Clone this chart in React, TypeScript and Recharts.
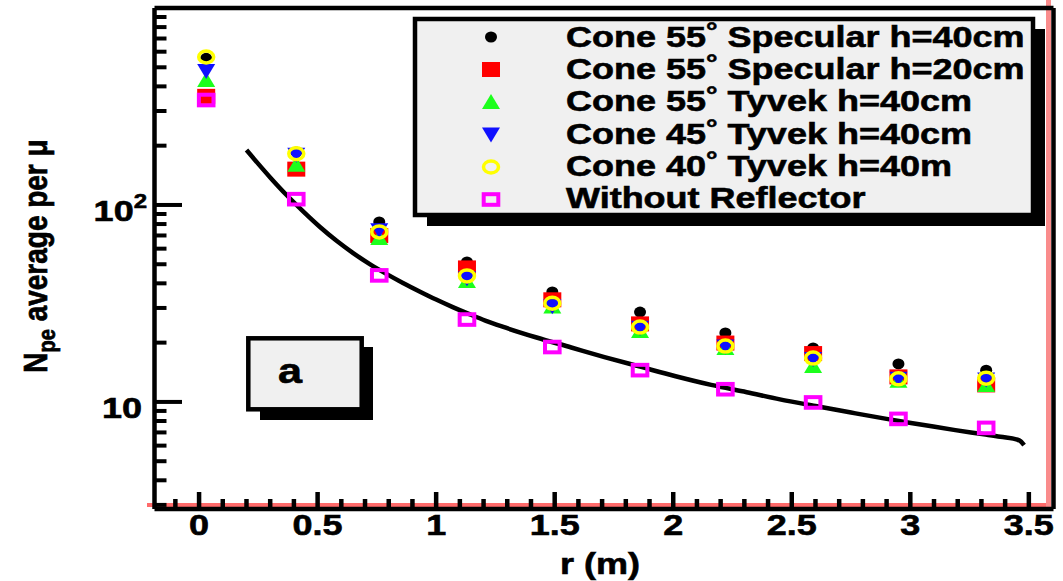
import React from "react";
import { ComposedChart, Scatter, Line, XAxis, YAxis, ReferenceLine } from "recharts";

// radial distance of each measurement (m)
const R_VALUES = [0.03, 0.41, 0.76, 1.13, 1.49, 1.86, 2.22, 2.59, 2.95, 3.32];

// mean photo-electrons per muon, one list per setup
const SPEC_55_H40 = [555, 186, 82, 51.4, 36.2, 28.6, 22.4, 18.8, 15.6, 14.5];
const SPEC_55_H20 = [356, 152, 70, 47.9, 33, 24.9, 19.9, 17.6, 13.4, 12.2];
const TYVEK_55_H40 = [431, 160, 68, 41.1, 30.5, 22.9, 18.8, 15.2, 12.8, 12.2];
const TYVEK_45_H40 = [479, 180, 74.5, 42.5, 30.6, 23.8, 19.1, 16.5, 13.1, 13.0];
const TYVEK_40_H40 = [564, 182, 73, 43.6, 31.7, 24.0, 19.2, 16.7, 13.1, 13.2];
const NO_REFLECTOR = [341, 107, 43.9, 26.2, 19.0, 14.5, 11.6, 9.94, 8.2, 7.38];

// fitted curve
const FIT_R = [
  0.2, 0.3, 0.37, 0.44, 0.51, 0.58, 0.65, 0.72, 0.79, 0.86, 0.93, 1.0, 1.07, 1.14, 1.21,
  1.28, 1.42, 1.57, 1.71, 1.86, 2.01, 2.16, 2.31, 2.45, 2.6, 2.75, 2.9, 3.05, 3.19, 3.31,
  3.38, 3.46, 3.48,
];
const FIT_VALUES = [
  190, 138, 112, 92.5, 77.3, 65.8, 57.0, 50.1, 44.7, 40.2, 36.4, 33.1, 30.3, 27.9, 25.8,
  24.1, 21.3, 18.9, 16.9, 15.1, 13.5, 12.2, 11.2, 10.3, 9.53, 8.83, 8.2, 7.66, 7.19, 6.85,
  6.65, 6.38, 6.03,
];

const X_MAJOR = [0, 0.5, 1, 1.5, 2, 2.5, 3, 3.5];
const X_MAJOR_LABELS = ["0", "0.5", "1", "1.5", "2", "2.5", "3", "3.5"];
const X_MINOR = [
  -0.1, 0.1, 0.2, 0.3, 0.4, 0.6, 0.7, 0.8, 0.9, 1.1, 1.2, 1.3, 1.4, 1.6, 1.7, 1.8, 1.9,
  2.1, 2.2, 2.3, 2.4, 2.6, 2.7, 2.8, 2.9, 3.1, 3.2, 3.3, 3.4,
];
const Y_MAJOR = [10, 100];
const Y_MAJOR_LABELS = [
  { base: "10", sup: "" },
  { base: "10", sup: "2" },
];
const Y_MINOR = [3, 4, 5, 6, 7, 8, 9, 20, 30, 40, 50, 60, 70, 80, 90, 200, 300, 400, 500, 600, 700, 800, 900];

const LEGEND_LABELS = [
  "Cone 55° Specular h=40cm",
  "Cone 55° Specular h=20cm",
  "Cone 55° Tyvek h=40cm",
  "Cone 45° Tyvek h=40cm",
  "Cone 40° Tyvek h=40m",
  "Without Reflector",
];

const X_MIN = -0.188;
const X_MAX = 3.604;
const Y_MIN = 2.86;
const Y_MAX = 1000;

// frame edges in pixels (plot area set by the chart margins below)
const PLOT_LEFT = 154.5;
const PLOT_BOTTOM = 509;

const FONT = "'Liberation Sans', Arial, Helvetica, sans-serif";

type MarkerKind = "dot" | "square" | "triUp" | "triDown" | "ring" | "openSquare";

const SERIES: { name: string; values: number[]; color: string; kind: MarkerKind }[] = [
  { name: LEGEND_LABELS[0], values: SPEC_55_H40, color: "#000000", kind: "dot" },
  { name: LEGEND_LABELS[1], values: SPEC_55_H20, color: "#ff0000", kind: "square" },
  { name: LEGEND_LABELS[2], values: TYVEK_55_H40, color: "#1cff1c", kind: "triUp" },
  { name: LEGEND_LABELS[3], values: TYVEK_45_H40, color: "#1010ff", kind: "triDown" },
  { name: LEGEND_LABELS[4], values: TYVEK_40_H40, color: "#ffff00", kind: "ring" },
  { name: LEGEND_LABELS[5], values: NO_REFLECTOR, color: "#ff00ff", kind: "openSquare" },
];

function Marker({ kind, color, cx, cy }: { kind: MarkerKind; color: string; cx: number; cy: number }) {
  switch (kind) {
    case "dot":
      return <ellipse cx={cx} cy={cy} rx={6} ry={5.5} fill={color} />;
    case "square":
      return <rect x={cx - 9} y={cy - 7.5} width={18} height={15} fill={color} />;
    case "triUp":
      return <polygon points={`${cx - 9},${cy + 7} ${cx + 9},${cy + 7} ${cx},${cy - 8}`} fill={color} />;
    case "triDown":
      return <polygon points={`${cx - 9},${cy - 7} ${cx + 9},${cy - 7} ${cx},${cy + 8}`} fill={color} />;
    case "ring":
      return <ellipse cx={cx} cy={cy} rx={7.5} ry={6} fill="none" stroke={color} strokeWidth={3.5} />;
    default:
      return (
        <rect x={cx - 7.3} y={cy - 5.3} width={14.6} height={10.6} fill="none" stroke={color} strokeWidth={4} />
      );
  }
}

function Txt({
  x,
  y,
  size,
  anchor = "start",
  children,
}: {
  x: number;
  y: number;
  size: number;
  anchor?: "start" | "middle" | "end";
  children: React.ReactNode;
}) {
  return (
    <text
      transform={`translate(${x},${y}) scale(1.2,1)`}
      fontFamily={FONT}
      fontWeight="bold"
      fontSize={size}
      textAnchor={anchor}
      fill="#000"
      stroke="#000"
      strokeWidth={0.6}
    >
      {children}
    </text>
  );
}

function XTick(props: any) {
  const { x, payload } = props;
  const i = X_MAJOR.indexOf(payload.value);
  const major = i >= 0;
  return (
    <g>
      <line
        x1={x}
        x2={x}
        y1={PLOT_BOTTOM}
        y2={PLOT_BOTTOM - (major ? 17 : 10)}
        stroke="#000"
        strokeWidth={4.5}
      />
      {major && (
        <Txt x={x} y={PLOT_BOTTOM + 26} size={30} anchor="middle">
          {X_MAJOR_LABELS[i]}
        </Txt>
      )}
    </g>
  );
}

function YTick(props: any) {
  const { y, payload } = props;
  const i = Y_MAJOR.indexOf(payload.value);
  const major = i >= 0;
  const lab = major ? Y_MAJOR_LABELS[i] : null;
  return (
    <g>
      <line
        x1={PLOT_LEFT}
        x2={PLOT_LEFT + (major ? 27.5 : 12)}
        y1={y}
        y2={y}
        stroke="#000"
        strokeWidth={4}
      />
      {lab && (
        <Txt x={lab.sup ? 147 : 142} y={y + 16.5} size={30} anchor="end">
          {lab.base}
          {lab.sup && (
            <tspan fontSize={20} dy={-13}>
              {lab.sup}
            </tspan>
          )}
        </Txt>
      )}
    </g>
  );
}

function LegendBox() {
  return (
    <g>
      <rect x={427} y={29} width={618} height={197} fill="#000" />
      <rect x={415} y={19} width={618} height={196} fill="#f0f0f0" stroke="#000" strokeWidth={4.5} />
      {SERIES.map((s, i) => {
        const [pre, post] = s.name.split("°");
        return (
          <g key={s.name}>
            <Marker kind={s.kind} color={s.color} cx={491} cy={37 + 32.5 * i} />
            <Txt x={566} y={47 + 32.2 * i} size={30}>
              {pre}
              {post !== undefined && (
                <>
                  <tspan fontSize={24} dy={-8}>
                    °
                  </tspan>
                  <tspan dy={8}>{post}</tspan>
                </>
              )}
            </Txt>
          </g>
        );
      })}
    </g>
  );
}

export default function App() {
  const fitData = FIT_R.map((r, i) => ({ r, v: FIT_VALUES[i] }));
  const layer = { position: "absolute" as const, left: 0, top: 0 };
  return (
    <div style={{ position: "fixed", left: 0, top: 0, width: 1063, height: 581, background: "#fff" }}>
      {/* pink frame edges sit under the axes and their ticks */}
      <svg width={1063} height={581} style={layer}>
        <line x1={147} x2={1051} y1={505} y2={505} stroke="#ff6b6b" strokeWidth={4} />
        <line x1={1048.5} x2={1048.5} y1={0} y2={507} stroke="#fa8c8c" strokeWidth={5} />
      </svg>
      <div style={layer}>
        <ComposedChart width={1063} height={581} margin={{ top: 8, right: 9.5, bottom: 0, left: 0 }}>
          <XAxis
            type="number"
            dataKey="r"
            domain={[X_MIN, X_MAX]}
            allowDataOverflow
            ticks={[...X_MAJOR, ...X_MINOR]}
            interval={0}
            tick={<XTick />}
            tickLine={false}
            tickSize={0}
            tickMargin={0}
            height={72}
            axisLine={{ stroke: "#000", strokeWidth: 4.5 }}
          />
          <YAxis
            type="number"
            dataKey="v"
            scale="log"
            domain={[Y_MIN, Y_MAX]}
            allowDataOverflow
            ticks={[...Y_MAJOR, ...Y_MINOR]}
            interval={0}
            tick={<YTick />}
            tickLine={false}
            tickSize={0}
            tickMargin={0}
            width={PLOT_LEFT}
            axisLine={{ stroke: "#000", strokeWidth: 4.5 }}
          />
          <ReferenceLine y={Y_MAX} stroke="#000" strokeWidth={4.5} />
          <ReferenceLine x={X_MAX} stroke="#000" strokeWidth={4.5} />
          {SERIES.map((s) => (
            <Scatter
              key={s.name}
              name={s.name}
              data={R_VALUES.map((r, i) => ({ r, v: s.values[i] }))}
              dataKey="v"
              isAnimationActive={false}
              shape={(p: any) => <Marker kind={s.kind} color={s.color} cx={p.cx} cy={p.cy} />}
            />
          ))}
          <Line
            data={fitData}
            dataKey="v"
            type="monotone"
            stroke="#000"
            strokeWidth={4.5}
            dot={false}
            activeDot={false}
            isAnimationActive={false}
          />
        </ComposedChart>
      </div>
      <svg width={1063} height={581} style={{ ...layer, pointerEvents: "none" }}>
        <LegendBox />
        <rect x={260} y={347} width={113} height={73} fill="#000" />
        <rect x={248.3} y={338.3} width={113.4} height={71} fill="#f0f0f0" stroke="#000" strokeWidth={4.5} />
        <Txt x={290} y={383} size={36} anchor="middle">
          a
        </Txt>
        <Txt x={600} y={574} size={30} anchor="middle">
          r (m)
        </Txt>
        <text
          transform="translate(47,256) scale(1.2,1) rotate(-90)"
          fontFamily={FONT}
          fontWeight="bold"
          fontSize={28}
          textAnchor="middle"
          fill="#000"
          stroke="#000"
          strokeWidth={0.6}
        >
          N
          <tspan fontSize={20} dy={7}>
            pe
          </tspan>
          <tspan dy={-7}> average per μ</tspan>
        </text>
      </svg>
    </div>
  );
}
